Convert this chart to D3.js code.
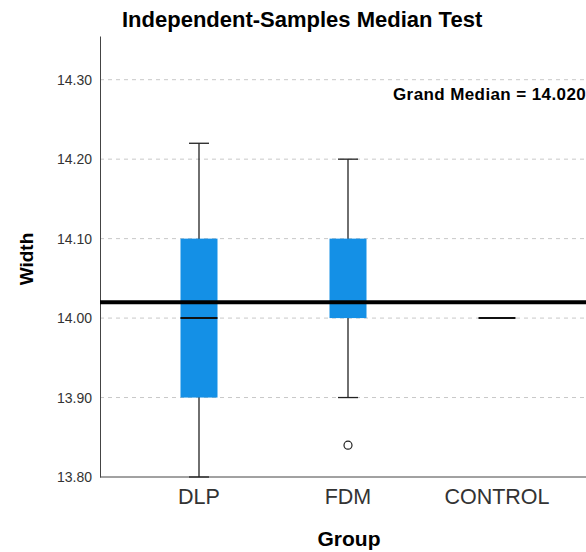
<!DOCTYPE html>
<html>
<head>
<meta charset="utf-8">
<script src="https://cdn.jsdelivr.net/npm/d3@7"></script>
<style>
body { margin: 0; background: #fff; }
text { font-family: "Liberation Sans", Arial, sans-serif; }
</style>
</head>
<body>
<div id="chart"></div>
<script>
var width = 586;
var height = 552;

// data
var groups = ["DLP", "FDM", "CONTROL"];
var whiskerLow = [13.80, 13.90, 14.00];
var q1 = [13.90, 14.00, 14.00];
var median = [14.00, 14.02, 14.00];
var q3 = [14.10, 14.10, 14.00];
var whiskerHigh = [14.22, 14.20, 14.00];
var outliers = [[], [13.84], []];
var grandMedian = 14.02;
var yTicks = [13.80, 13.90, 14.00, 14.10, 14.20, 14.30];

var plotLeft = 100, plotRight = 586, plotTop = 36, plotBottom = 477;

var svg = d3.select("#chart")
    .append("svg")
    .attr("width", width)
    .attr("height", height);

var y = d3.scaleLinear()
    .domain([13.80, 14.355])
    .range([plotBottom, plotTop]);

var x = d3.scalePoint()
    .domain(groups)
    .range([199, 497]);

// grid lines
svg.selectAll("line.grid")
    .data(yTicks.slice(1))
    .enter()
    .append("line")
    .attr("class", "grid")
    .attr("x1", plotLeft)
    .attr("x2", plotRight)
    .attr("y1", function(d) { return y(d); })
    .attr("y2", function(d) { return y(d); })
    .attr("stroke", "#c8c8c8")
    .attr("stroke-dasharray", "4,4");

// y axis
var yAxis = d3.axisLeft(y)
    .tickValues(yTicks)
    .tickFormat(d3.format(".2f"))
    .tickSize(0)
    .tickPadding(8);

var ga = svg.append("g")
    .attr("transform", "translate(" + plotLeft + ",0)")
    .call(yAxis);
ga.select(".domain").attr("stroke", "#444");
ga.selectAll("text")
    .attr("font-size", 14)
    .attr("fill", "#333")
    .style("font-family", "Liberation Sans, Arial, sans-serif");

// x axis line
svg.append("line")
    .attr("x1", plotLeft)
    .attr("x2", plotRight)
    .attr("y1", plotBottom)
    .attr("y2", plotBottom)
    .attr("stroke", "#444");

// category labels
svg.selectAll("text.cat")
    .data(groups)
    .enter()
    .append("text")
    .attr("class", "cat")
    .attr("x", function(d) { return x(d); })
    .attr("y", 504)
    .attr("text-anchor", "middle")
    .attr("font-size", 21.5)
    .attr("fill", "#333")
    .text(function(d) { return d; });

var boxW = 37, capW = 20;

groups.forEach(function(g, i) {
    var cx = x(g);
    // whisker
    svg.append("line")
        .attr("x1", cx).attr("x2", cx)
        .attr("y1", y(whiskerLow[i])).attr("y2", y(whiskerHigh[i]))
        .attr("stroke", "#222").attr("stroke-width", 1.3);
    // caps
    [whiskerLow[i], whiskerHigh[i]].forEach(function(v) {
        svg.append("line")
            .attr("x1", cx - capW / 2).attr("x2", cx + capW / 2)
            .attr("y1", y(v)).attr("y2", y(v))
            .attr("stroke", "#222").attr("stroke-width", 1.3);
    });
    // box
    svg.append("rect")
        .attr("x", cx - boxW / 2)
        .attr("y", y(q3[i]))
        .attr("width", boxW)
        .attr("height", y(q1[i]) - y(q3[i]))
        .attr("fill", "#1490e6");
    // median
    svg.append("line")
        .attr("x1", cx - boxW / 2).attr("x2", cx + boxW / 2)
        .attr("y1", y(median[i])).attr("y2", y(median[i]))
        .attr("stroke", "#111").attr("stroke-width", 2);
    // outliers
    outliers[i].forEach(function(v) {
        svg.append("circle")
            .attr("cx", cx).attr("cy", y(v)).attr("r", 4)
            .attr("fill", "none").attr("stroke", "#222").attr("stroke-width", 1.2);
    });
});

// grand median line
svg.append("line")
    .attr("x1", plotLeft)
    .attr("x2", plotRight)
    .attr("y1", y(grandMedian))
    .attr("y2", y(grandMedian))
    .attr("stroke", "#000")
    .attr("stroke-width", 4);

svg.append("text")
    .attr("x", 393)
    .attr("y", 100)
    .attr("font-size", 17)
    .attr("font-weight", "bold")
    .attr("letter-spacing", 0.4)
    .attr("fill", "#000")
    .text("Grand Median = " + d3.format(".3f")(grandMedian));

// title
svg.append("text")
    .attr("x", 122)
    .attr("y", 27)
    .attr("font-size", 22)
    .attr("font-weight", "bold")
    .text("Independent-Samples Median Test");

// axis titles
svg.append("text")
    .attr("transform", "translate(33,259) rotate(-90)")
    .attr("text-anchor", "middle")
    .attr("font-size", 19)
    .attr("font-weight", "bold")
    .text("Width");

svg.append("text")
    .attr("x", 349)
    .attr("y", 546)
    .attr("text-anchor", "middle")
    .attr("font-size", 21)
    .attr("font-weight", "bold")
    .text("Group");
</script>
</body>
</html>
